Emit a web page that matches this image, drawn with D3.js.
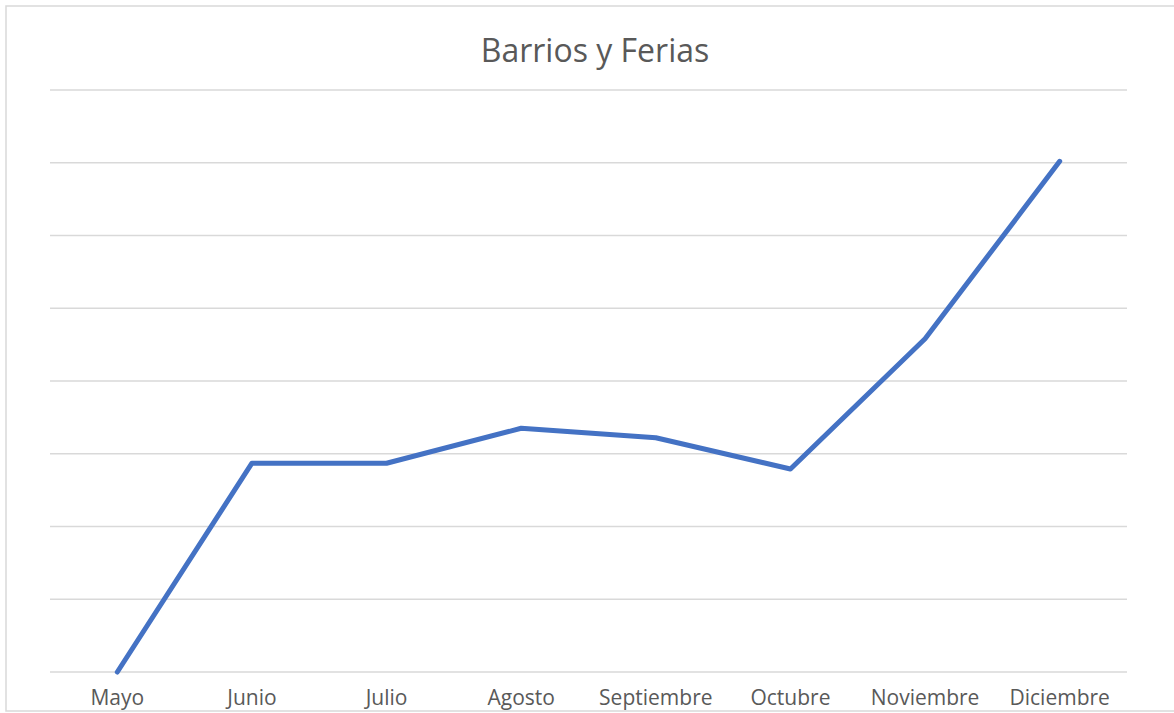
<!DOCTYPE html>
<html>
<head>
  <meta charset="utf-8">
  <script src="https://d3js.org/d3.v7.min.js"></script>
  <style>
    body { margin: 0; background: #fff; }
    text { font-family: "Open Sans", "Liberation Sans", sans-serif; fill: #595959; }
  </style>
</head>
<body>
<script>
  // chart data
  var months = ["Mayo", "Junio", "Julio", "Agosto", "Septiembre", "Octubre", "Noviembre", "Diciembre"];
  var values = [0, 28.7, 28.7, 33.5, 32.2, 27.9, 45.8, 70.2];
  var yTicks = [0, 10, 20, 30, 40, 50, 60, 70, 80];

  var W = 1174, H = 713;
  var plotLeft = 50, plotRight = 1127, plotTop = 90, plotBottom = 672;

  var svg = d3.select("body").append("svg")
      .attr("width", W)
      .attr("height", H);

  // clip so the labels stop at the frame
  svg.append("clipPath").attr("id", "frame")
    .append("rect").attr("x", 6).attr("y", 6).attr("width", W).attr("height", 705);

  var x = d3.scaleBand().domain(months).range([plotLeft, plotRight]);
  var y = d3.scaleLinear().domain([0, 80]).range([plotBottom, plotTop]);

  // gridlines
  svg.append("g")
    .selectAll("line")
    .data(yTicks)
    .enter().append("line")
      .attr("x1", plotLeft).attr("x2", plotRight)
      .attr("y1", function (d) { return y(d); })
      .attr("y2", function (d) { return y(d); })
      .attr("stroke", "#d9d9d9")
      .attr("stroke-width", 1.5);

  // title
  svg.append("text")
    .attr("x", 595)
    .attr("y", 62)
    .attr("text-anchor", "middle")
    .style("font-size", "32px")
    .text("Barrios y Ferias");

  // x labels
  svg.append("g")
    .attr("clip-path", "url(#frame)")
    .selectAll("text")
    .data(months)
    .enter().append("text")
      .attr("x", function (d) { return x(d) + x.bandwidth() / 2; })
      .attr("y", 705)
      .attr("text-anchor", "middle")
      .style("font-size", "21px")
      .text(function (d) { return d; });

  // the line
  var line = d3.line()
    .x(function (d, i) { return x(months[i]) + x.bandwidth() / 2; })
    .y(function (d) { return y(d); });

  svg.append("path")
    .datum(values)
    .attr("d", line)
    .attr("fill", "none")
    .attr("stroke", "#4472c4")
    .attr("stroke-width", 5)
    .attr("stroke-linecap", "round")
    .attr("stroke-linejoin", "round");

  // outer frame
  svg.append("rect")
    .attr("x", 6).attr("y", 6)
    .attr("width", W + 10).attr("height", 705)
    .attr("fill", "none")
    .attr("stroke", "#d9d9d9")
    .attr("stroke-width", 1.5);
</script>
</body>
</html>
